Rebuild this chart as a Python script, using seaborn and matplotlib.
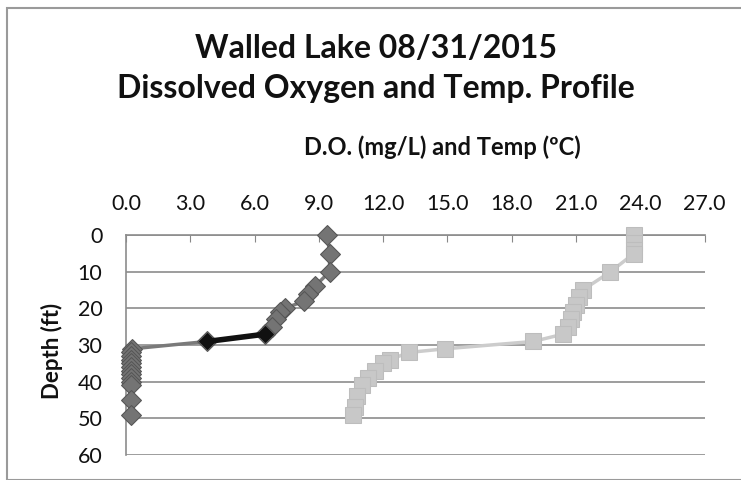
#!/usr/bin/env python3
# Walled Lake 08/31/2015 - D.O. and temperature profile

import numpy as np
import pandas as pd
import matplotlib
matplotlib.use("Agg")
import matplotlib.pyplot as plt
import seaborn as sns
from matplotlib.patches import Rectangle

# ---------------- data ----------------
do_depth = [0, 5, 10, 14, 16, 18, 20, 21, 23, 25, 27, 29, 31,
            32, 33, 34, 35, 36, 37, 38, 39, 40, 41, 45, 49]
do_mgl = [9.4, 9.5, 9.5, 8.8, 8.5, 8.3, 7.4, 7.2, 7.0, 6.8, 6.5, 3.8, 0.3,
          0.25, 0.25, 0.25, 0.25, 0.25, 0.25, 0.25, 0.25, 0.25, 0.25, 0.25, 0.25]

temp_depth = [0, 2, 4, 5, 10, 15, 17, 19, 21, 23, 25, 27, 29, 31,
              32, 34, 35, 37, 39, 41, 44, 47, 49]
temp_c = [23.7, 23.7, 23.7, 23.7, 22.6, 21.3, 21.15, 21.0, 20.85, 20.75, 20.6, 20.4,
          19.0, 14.9, 13.2, 12.3, 12.0, 11.6, 11.3, 11.0, 10.8, 10.7, 10.6]

x_ticks = [0, 3, 6, 9, 12, 15, 18, 21, 24, 27]
y_ticks = [0, 10, 20, 30, 40, 50, 60]

do_df = pd.DataFrame({"depth": do_depth, "value": do_mgl})
temp_df = pd.DataFrame({"depth": temp_depth, "value": temp_c})

# ---------------- plot ----------------
sns.set_style("white")
plt.rcParams["font.family"] = ["Lato", "DejaVu Sans"]

fig = plt.figure(figsize=(7.41, 4.80), dpi=100)
ax = fig.add_axes([0.170, 0.052, 0.781, 0.458])

# temperature (light grey squares)
sns.lineplot(data=temp_df, x="value", y="depth", sort=False, estimator=None, ax=ax,
             color="#cccccc", lw=2.5, marker="s", markersize=12, clip_on=False,
             markerfacecolor="#c8c8c8", markeredgecolor="#bdbdbd", zorder=3)

# dissolved oxygen (dark grey diamonds)
sns.lineplot(data=do_df, x="value", y="depth", sort=False, estimator=None, ax=ax,
             color="#7a7a7a", lw=2.5, marker="D", markersize=10, clip_on=False,
             markerfacecolor="#747474", markeredgecolor="#555555", zorder=4)

# dark segment across the oxycline, as in the original print
oxy = do_df[(do_df["depth"] >= 27) & (do_df["depth"] <= 29)]
sns.lineplot(data=oxy, x="value", y="depth", sort=False, estimator=None, ax=ax,
             color="#111111", lw=4, marker="D", markersize=8,
             markerfacecolor="#111111", markeredgecolor="#111111", zorder=5)

ax.set_xlim(0, 27)
ax.set_ylim(60, 0)
ax.set_xticks(x_ticks)
ax.set_xticklabels([f"{v:.1f}" for v in x_ticks])
ax.set_yticks(y_ticks)
ax.xaxis.tick_top()
ax.tick_params(axis="x", which="major", direction="in", length=5, color="#888888",
               labelsize=15.5, pad=15, labelcolor="#111111")
ax.tick_params(axis="y", which="major", direction="out", length=0,
               labelsize=15.5, pad=17, labelcolor="#111111")

ax.yaxis.grid(True, color="#8c8c8c", lw=1.2)
ax.xaxis.grid(False)
for side in ["right", "bottom"]:
    ax.spines[side].set_visible(False)
for side in ["top", "left"]:
    ax.spines[side].set_color("#8c8c8c")
    ax.spines[side].set_linewidth(1.2)

ax.set_xlabel("")
ax.set_ylabel("")
fig.text(52 / 741, 1 - 351 / 480, "Depth (ft)", rotation=90, ha="center", va="center",
         fontsize=16, fontweight="bold", color="#111111")

# titles
fig.text(0.507, 0.879, "Walled Lake 08/31/2015", ha="center", va="baseline",
         fontsize=23, fontweight="bold", color="#111111")
fig.text(0.507, 0.796, "Dissolved Oxygen and Temp. Profile", ha="center", va="baseline",
         fontsize=23, fontweight="bold", color="#111111")
fig.text(0.597, 0.677, "D.O. (mg/L) and Temp (ºC)", ha="center", va="baseline",
         fontsize=17, fontweight="bold", color="#111111")

# chart border
fig.patches.append(Rectangle((7 / 741, 0), 1, 1 - 8 / 480, transform=fig.transFigure,
                             fill=False, edgecolor="#9a9a9a", lw=1.5))

fig.savefig("out.png", dpi=100)
plt.close(fig)
